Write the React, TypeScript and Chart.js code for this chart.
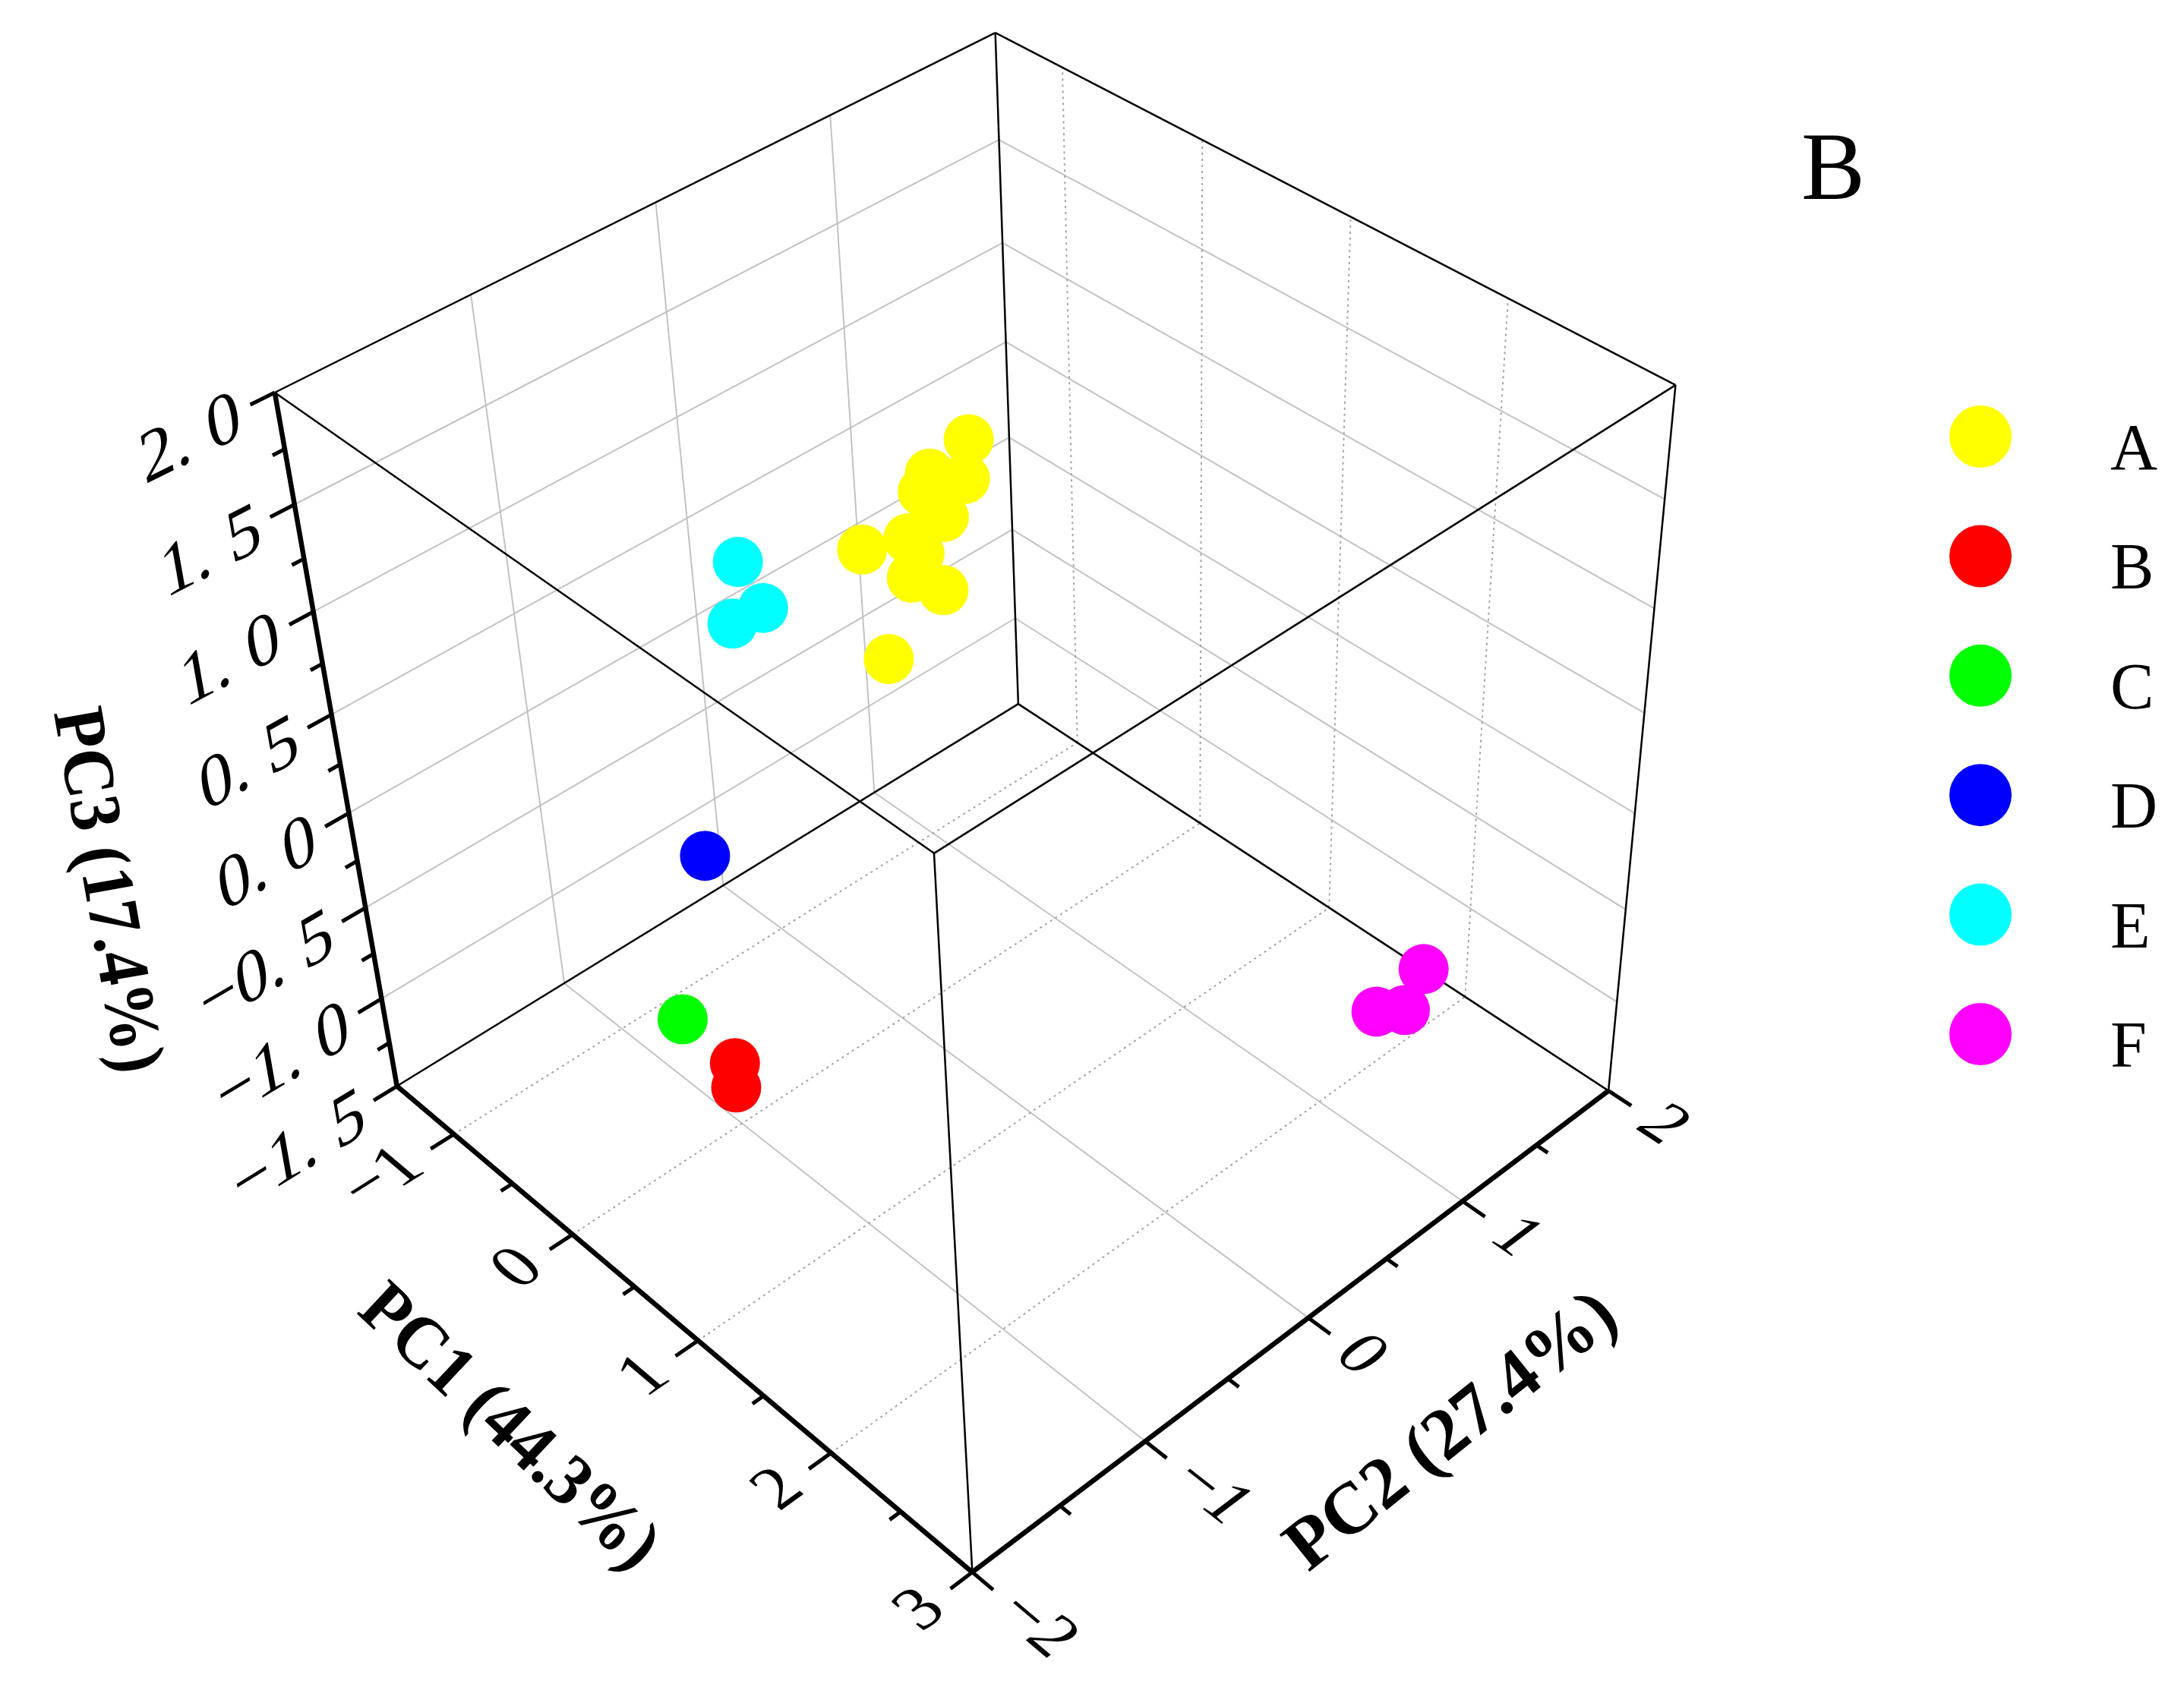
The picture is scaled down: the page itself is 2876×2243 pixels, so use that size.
import { useEffect, useRef } from 'react'
import { Chart, registerables } from 'chart.js'
import type { Plugin } from 'chart.js'

Chart.register(...registerables)

// sample groups, colours and their PCA scores
const groups = ['A', 'B', 'C', 'D', 'E', 'F']
const colors = ['#ffff00', '#ff0000', '#00ff00', '#0000ff', '#00ffff', '#ff00ff']

const pc1A = [0.22, -0.08, 0.18, -0.14, 0.01, -0.27, -0.64, -0.19, -0.26, -0.02, -0.48]
const pc2A = [0.4, 0.4, 0.4, 0.4, 0.4, 0.4, 0.4, 0.4, 0.4, 0.4, 0.4]
const pc3A = [1.39, 1.11, 1.19, 1.0, 0.94, 0.72, 0.51, 0.68, 0.53, 0.57, 0.02]

const pc1B = [0.3, 0.29]
const pc2B = [-1.2, -1.2]
const pc3B = [-0.87, -1.01]

const pc1C = [-0.11]
const pc2C = [-1.2]
const pc3C = [-0.85]

const pc1D = [-1.02]
const pc2D = [-0.4]
const pc3D = [-0.87]

const pc1E = [-0.5, -0.33, -0.59]
const pc2E = [-0.4, -0.4, -0.4]
const pc3E = [0.89, 0.74, 0.55]

const pc1F = [2.47, 2.17, 2.36]
const pc2F = [1.2, 1.2, 1.2]
const pc3F = [-0.63, -1.02, -0.91]

const scores = [
  { pc1: pc1A, pc2: pc2A, pc3: pc3A },
  { pc1: pc1B, pc2: pc2B, pc3: pc3B },
  { pc1: pc1C, pc2: pc2C, pc3: pc3C },
  { pc1: pc1D, pc2: pc2D, pc3: pc3D },
  { pc1: pc1E, pc2: pc2E, pc3: pc3E },
  { pc1: pc1F, pc2: pc2F, pc3: pc3F },
]

// axes
const pc1Range = [-1.5, 3]
const pc2Range = [-2, 2]
const pc3Range = [-1.5, 2]
const pc1Ticks = [-1, 0, 1, 2, 3]
const pc2Ticks = [-2, -1, 0, 1, 2]
const pc3Ticks = [-1.5, -1, -0.5, 0, 0.5, 1, 1.5, 2]
const titles = ['PC1 (44.3%)', 'PC2 (27.4%)', 'PC3 (17.4%)']
const panelLabel = 'B'

// layout: view units of the flat scatter, and where the box corners land in it
const VIEW_W = 2876
const VIEW_H = 2243
type Corner = [number, number, number, number, number]
const frameCorners: Corner[] = [
  [0, 0, 0, 523, 1429],
  [1, 0, 0, 1280, 2072],
  [1, 1, 0, 2118, 1436],
  [0, 1, 0, 1341, 928],
  [0, 0, 1, 361, 519],
  [1, 0, 1, 1231, 1122],
  [1, 1, 1, 2206, 508],
  [0, 1, 1, 1311, 42],
]

const SERIF = '"Liberation Serif", "Times New Roman", serif'

function solveLinear(M: number[][], b: number[]) {
  const n = b.length
  const a = M.map((row, i) => [...row, b[i]])
  for (let c = 0; c < n; c++) {
    let p = c
    for (let r = c + 1; r < n; r++) if (Math.abs(a[r][c]) > Math.abs(a[p][c])) p = r
    const tmp = a[c]
    a[c] = a[p]
    a[p] = tmp
    for (let r = 0; r < n; r++) {
      if (r === c) continue
      const f = a[r][c] / a[c][c]
      for (let k = c; k <= n; k++) a[r][k] -= f * a[c][k]
    }
  }
  return a.map((row, i) => row[n] / row[i])
}

// perspective camera (3x4, DLT) fitted to the box corners
function fitCamera(corners: Corner[]) {
  const M = Array.from({ length: 11 }, () => new Array(11).fill(0))
  const r = new Array(11).fill(0)
  const add = (row: number[], b: number) => {
    for (let i = 0; i < 11; i++) {
      r[i] += row[i] * b
      for (let j = 0; j < 11; j++) M[i][j] += row[i] * row[j]
    }
  }
  corners.forEach(([u, v, w, sx, sy]) => {
    const x = sx / 1000
    const y = sy / 1000
    add([u, v, w, 1, 0, 0, 0, 0, -x * u, -x * v, -x * w], x)
    add([0, 0, 0, 0, u, v, w, 1, -y * u, -y * v, -y * w], y)
  })
  return solveLinear(M, r)
}

const cam = fitCamera(frameCorners)

function project(pc1: number, pc2: number, pc3: number) {
  const u = (pc1 - pc1Range[0]) / (pc1Range[1] - pc1Range[0])
  const v = (pc2 - pc2Range[0]) / (pc2Range[1] - pc2Range[0])
  const w = (pc3 - pc3Range[0]) / (pc3Range[1] - pc3Range[0])
  const d = cam[8] * u + cam[9] * v + cam[10] * w + 1
  return {
    x: (1000 * (cam[0] * u + cam[1] * v + cam[2] * w + cam[3])) / d,
    y: (1000 * (cam[4] * u + cam[5] * v + cam[6] * w + cam[7])) / d,
  }
}

const fmt = (t: number, digits: number) => t.toFixed(digits).replace('-', '\u2212')

const frame3d: Plugin<'scatter'> = {
  id: 'frame3d',
  beforeDatasetsDraw(chart) {
    const { ctx } = chart
    const xs = chart.scales.x
    const ys = chart.scales.y
    const P = (a: number, b: number, c: number) => {
      const p = project(a, b, c)
      return [xs.getPixelForValue(p.x), ys.getPixelForValue(p.y)]
    }
    const unit = (p: number[], q: number[]) => {
      const dx = q[0] - p[0]
      const dy = q[1] - p[1]
      const l = Math.hypot(dx, dy)
      return [dx / l, dy / l]
    }
    const line = (p: number[], q: number[]) => {
      ctx.beginPath()
      ctx.moveTo(p[0], p[1])
      ctx.lineTo(q[0], q[1])
      ctx.stroke()
    }
    const [x0, x1] = pc1Range
    const [y0, y1] = pc2Range
    const [z0, z1] = pc3Range
    const inner = (ticks: number[], lo: number, hi: number) => ticks.filter((t) => t > lo && t < hi)

    ctx.save()
    // solid grid
    ctx.strokeStyle = '#c2c2c2'
    ctx.lineWidth = 2
    inner(pc3Ticks, z0, z1).forEach((z) => {
      line(P(x0, y0, z), P(x0, y1, z))
      line(P(x0, y1, z), P(x1, y1, z))
    })
    inner(pc2Ticks, y0, y1).forEach((y) => {
      line(P(x0, y, z0), P(x0, y, z1))
      line(P(x0, y, z0), P(x1, y, z0))
    })
    // dotted grid
    ctx.setLineDash([3, 5])
    ctx.strokeStyle = '#a4a4a4'
    inner(pc1Ticks, x0, x1).forEach((x) => {
      line(P(x, y1, z0), P(x, y1, z1))
      line(P(x, y0, z0), P(x, y1, z0))
    })
    ctx.setLineDash([])

    // box
    ctx.strokeStyle = '#000'
    ctx.lineWidth = 2.5
    const xsr = [x0, x1]
    const ysr = [y0, y1]
    const zsr = [z0, z1]
    for (const a of ysr) for (const c of zsr) line(P(x0, a, c), P(x1, a, c))
    for (const a of xsr) for (const c of zsr) line(P(a, y0, c), P(a, y1, c))
    for (const a of xsr) for (const b of ysr) line(P(a, b, z0), P(a, b, z1))

    // axes
    ctx.lineWidth = 6.5
    line(P(x0, y0, z0), P(x1, y0, z0))
    line(P(x1, y0, z0), P(x1, y1, z0))
    line(P(x0, y0, z0), P(x0, y0, z1))

    // ticks
    ctx.lineWidth = 5
    const tick = (p: number[], dir: number[], len: number) =>
      line(p, [p[0] + dir[0] * len, p[1] + dir[1] * len])
    for (let z = z0; z <= z1 + 1e-9; z += 0.25) {
      const p = P(x0, y0, z)
      const major = Math.abs(z * 2 - Math.round(z * 2)) < 1e-6
      tick(p, unit(p, P(x0, y0 - 0.2, z)), major ? 36 : 18)
    }
    for (let x = -1; x <= x1 + 1e-9; x += 0.5) {
      const p = P(x, y0, z0)
      tick(p, unit(p, P(x, y0 - 0.2, z0)), Number.isInteger(x) ? 36 : 18)
    }
    for (let y = y0; y <= y1 + 1e-9; y += 0.5) {
      const p = P(x1, y, z0)
      tick(p, unit(p, P(x1 + 0.2, y, z0)), Number.isInteger(y) ? 36 : 18)
    }

    // tick labels lying in the box planes
    ctx.fillStyle = '#000'
    const onPlane = (at: number[], b: number[], d: number[], font: string, draw: () => void) => {
      ctx.save()
      ctx.translate(at[0], at[1])
      ctx.transform(b[0], b[1], d[0], d[1], 0, 0)
      ctx.font = font
      ctx.textBaseline = 'middle'
      draw()
      ctx.restore()
    }
    pc3Ticks.forEach((z) => {
      const p = P(x0, y0, z)
      const out = unit(p, P(x0, y0 - 0.2, z))
      const b = unit(p, P(x0, y0 + 0.2, z))
      const d = unit(p, P(x0, y0, z - 0.2))
      const [ip, fp] = fmt(z, 1).split('.')
      const at = [p[0] + out[0] * 52 + d[0] * 8, p[1] + out[1] * 52 + d[1] * 8]
      onPlane(at, b, d, `96px ${SERIF}`, () => {
        ctx.textAlign = 'right'
        ctx.fillText(fp, 0, 0)
        ctx.fillText(ip + '.', -ctx.measureText(fp).width - 26, 0)
      })
    })
    pc1Ticks.forEach((x) => {
      const p = P(x, y0, z0)
      const out = unit(p, P(x, y0 - 0.2, z0))
      const b = unit(p, P(x, y0 + 0.2, z0))
      const d = unit(p, P(x + 0.2, y0, z0))
      onPlane([p[0] + out[0] * 62, p[1] + out[1] * 62], b, d, `90px ${SERIF}`, () => {
        ctx.textAlign = 'right'
        ctx.fillText(fmt(x, 0), 0, 0)
      })
    })
    pc2Ticks.forEach((y) => {
      const p = P(x1, y, z0)
      const out = unit(p, P(x1 + 0.2, y, z0))
      const d = unit(p, P(x1, y - 0.2, z0))
      onPlane([p[0] + out[0] * 62, p[1] + out[1] * 62], out, d, `90px ${SERIF}`, () => {
        ctx.textAlign = 'left'
        ctx.fillText(fmt(y, 0), 0, 0)
      })
    })

    // axis titles
    const title = (text: string, mid: number[], out: number[], along: number[], s: number, t: number, squeeze: number, tilt: number) => {
      ctx.save()
      ctx.translate(mid[0] + out[0] * s + along[0] * t, mid[1] + out[1] * s + along[1] * t)
      ctx.rotate(Math.atan2(along[1], along[0]) + (tilt * Math.PI) / 180)
      ctx.scale(squeeze, 1)
      ctx.font = `bold 96px ${SERIF}`
      ctx.textAlign = 'center'
      ctx.textBaseline = 'middle'
      ctx.fillText(text, 0, 0)
      ctx.restore()
    }
    const xm = (x0 + x1) / 2
    const ym = (y0 + y1) / 2
    const zm = (z0 + z1) / 2
    const m1 = P(xm, y0, z0)
    title(titles[0], m1, unit(m1, P(xm, y0 - 0.2, z0)), unit(m1, P(xm + 0.2, y0, z0)), 261, 9, 0.95, 3)
    const m2 = P(x1, ym, z0)
    title(titles[1], m2, unit(m2, P(x1 + 0.2, ym, z0)), unit(m2, P(x1, ym + 0.2, z0)), 246, -9, 1, -1.5)
    const m3 = P(x0, y0, zm)
    title(titles[2], m3, unit(m3, P(x0, y0 - 0.2, zm)), unit(m3, P(x0, y0, zm - 0.2)), 355, -7, 0.92, 0)
    ctx.restore()
  },
  afterDraw(chart) {
    const { ctx } = chart
    const xs = chart.scales.x
    const ys = chart.scales.y
    ctx.save()
    ctx.fillStyle = '#000'
    ctx.font = `126px ${SERIF}`
    ctx.textAlign = 'left'
    ctx.textBaseline = 'alphabetic'
    ctx.fillText(panelLabel, xs.getPixelForValue(2372), ys.getPixelForValue(262))
    groups.forEach((g, i) => {
      const cy = 575 + i * 157.4
      ctx.fillStyle = colors[i]
      ctx.beginPath()
      ctx.arc(xs.getPixelForValue(2608), ys.getPixelForValue(cy), 41, 0, Math.PI * 2)
      ctx.fill()
      ctx.fillStyle = '#000'
      ctx.font = `86px ${SERIF}`
      ctx.fillText(g, xs.getPixelForValue(2779), ys.getPixelForValue(cy + 43))
    })
    ctx.restore()
  },
}

export default function App() {
  const canvasRef = useRef<HTMLCanvasElement>(null)
  const chartRef = useRef<Chart | null>(null)

  useEffect(() => {
    if (!canvasRef.current) return

    chartRef.current?.destroy()

    chartRef.current = new Chart(canvasRef.current, {
      type: 'scatter',
      data: {
        datasets: groups.map((g, i) => ({
          label: g,
          data: scores[i].pc1.map((x, k) => project(x, scores[i].pc2[k], scores[i].pc3[k])),
          backgroundColor: colors[i],
          borderWidth: 0,
          pointRadius: 33,
          pointHoverRadius: 33,
          clip: false as const,
        })),
      },
      options: {
        animation: false,
        responsive: true,
        maintainAspectRatio: false,
        events: [],
        layout: { padding: 0, autoPadding: false },
        plugins: {
          legend: { display: false },
          tooltip: { enabled: false },
        },
        scales: {
          x: { type: 'linear', min: 0, max: VIEW_W, display: false },
          y: { type: 'linear', min: 0, max: VIEW_H, reverse: true, display: false },
        },
      },
      plugins: [frame3d],
    })

    return () => {
      chartRef.current?.destroy()
      chartRef.current = null
    }
  }, [])

  return (
    <div style={{ position: 'fixed', left: 0, top: 0, width: VIEW_W, height: VIEW_H, background: '#fff' }}>
      <canvas ref={canvasRef} />
    </div>
  )
}
